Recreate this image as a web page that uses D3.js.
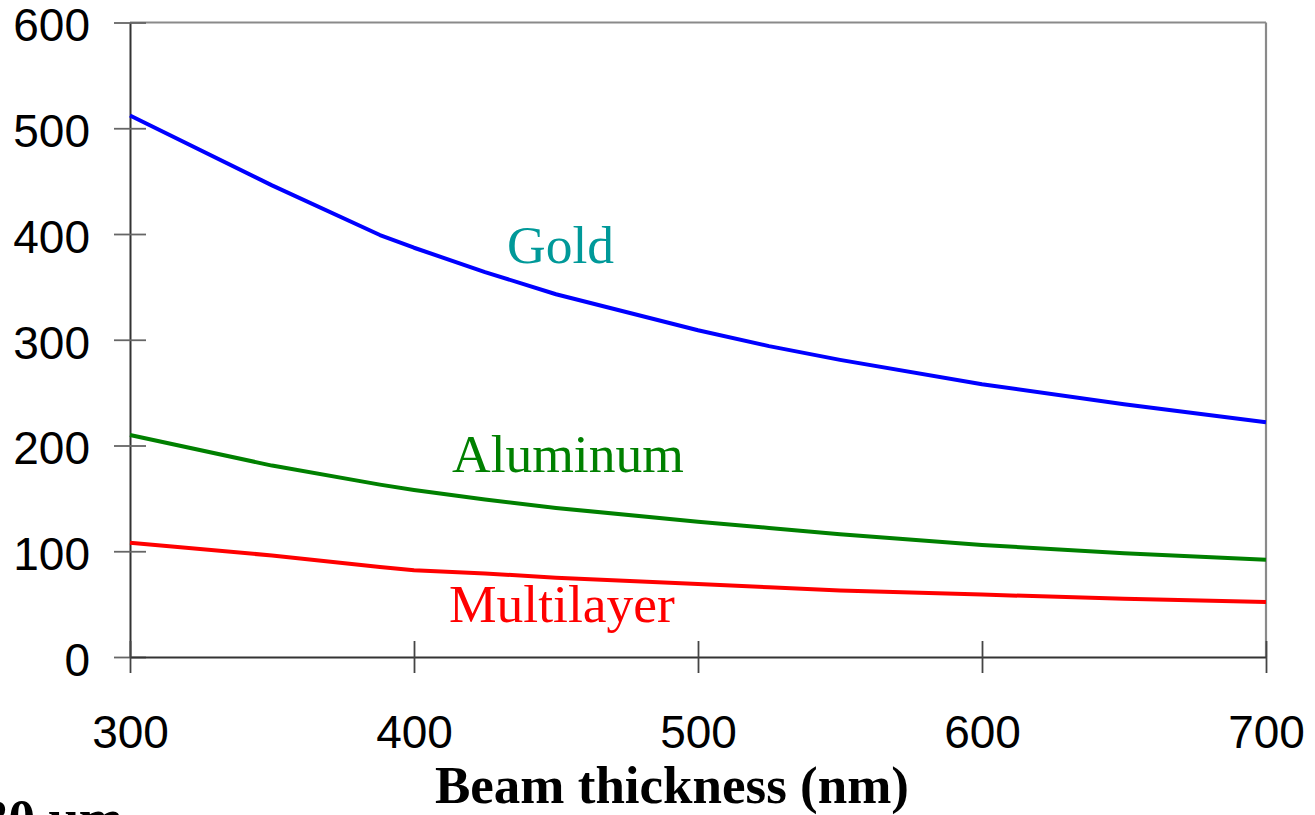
<!DOCTYPE html>
<html>
<head>
<meta charset="utf-8">
<script src="https://cdn.jsdelivr.net/npm/d3@7"></script>
<style>
  html, body { margin: 0; padding: 0; background: #fff; }
  svg { display: block; }
</style>
</head>
<body>
<svg id="chart" width="1315" height="815"></svg>
<script>
// Beam thickness (nm)
const thickness = [300, 350, 388, 400, 425, 450, 500, 525, 550, 600, 650, 700];
const gold       = [512, 446, 399, 387, 364, 343, 309, 294, 281, 258, 239, 222];
const aluminum   = [210, 181, 163, 158, 149, 141, 128, 122, 116, 106, 98, 92];
const multilayer = [108, 96, 85, 82, 79, 75, 69, 66, 63, 59, 55, 52];

const xTicks = [300, 400, 500, 600, 700];
const yTicks = [0, 100, 200, 300, 400, 500, 600];

const svg = d3.select("#chart");

const x = d3.scaleLinear().domain([300, 700]).range([130, 1266]);
const y = d3.scaleLinear().domain([0, 600]).range([657, 22.5]);

// frame: top and right edges
svg.append("line").attr("x1", 130).attr("x2", 1266).attr("y1", y(600)).attr("y2", y(600))
  .attr("stroke", "#8a8a8a").attr("stroke-width", 2.2);
svg.append("line").attr("x1", 1266).attr("x2", 1266).attr("y1", y(600)).attr("y2", y(0))
  .attr("stroke", "#8a8a8a").attr("stroke-width", 2.2);

// y axis with cross ticks
const yAxis = svg.append("g").attr("transform", "translate(130,0)")
  .call(d3.axisLeft(y).tickValues(yTicks).tickSize(0).tickPadding(40).tickFormat(d3.format("d")));
yAxis.select(".domain").attr("stroke", "#333").attr("stroke-width", 2);
yAxis.selectAll(".tick").append("line").attr("x1", -16).attr("x2", 16)
  .attr("stroke", "#666").attr("stroke-width", 1.8);
yAxis.selectAll("text").attr("font-family", "Liberation Sans, Arial, sans-serif")
  .attr("font-size", 46).attr("fill", "#000").attr("dy", "0.4em");

// x axis with cross ticks
const xAxis = svg.append("g").attr("transform", `translate(0,${y(0)})`)
  .call(d3.axisBottom(x).tickValues(xTicks).tickSize(0).tickPadding(58).tickFormat(d3.format("d")));
xAxis.select(".domain").attr("stroke", "#333").attr("stroke-width", 2);
xAxis.selectAll(".tick").append("line").attr("y1", -16).attr("y2", 16)
  .attr("stroke", "#444").attr("stroke-width", 1.8);
xAxis.selectAll("text").attr("font-family", "Liberation Sans, Arial, sans-serif")
  .attr("font-size", 46).attr("fill", "#000");

// series lines
const series = [
  { values: gold, color: "#0000ff" },
  { values: aluminum, color: "#008000" },
  { values: multilayer, color: "#ff0000" }
];
const line = d3.line().x(d => x(d[0])).y(d => y(d[1]));
series.forEach(s => {
  svg.append("path")
    .datum(thickness.map((t, i) => [t, s.values[i]]))
    .attr("d", line)
    .attr("fill", "none")
    .attr("stroke", s.color)
    .attr("stroke-width", 4)
    .attr("stroke-linejoin", "round");
});

// series labels
const labels = [
  { text: "Gold", x: 507, y: 263, color: "#009999" },
  { text: "Aluminum", x: 452, y: 472, color: "#008000" },
  { text: "Multilayer", x: 449, y: 622, color: "#ff0000" }
];
svg.selectAll(".series-label").data(labels).enter().append("text")
  .attr("class", "series-label")
  .attr("x", d => d.x).attr("y", d => d.y)
  .attr("fill", d => d.color)
  .attr("font-family", "Liberation Serif, Times New Roman, serif")
  .attr("font-size", 53.5)
  .text(d => d.text);

// axis title
svg.append("text")
  .attr("x", 672).attr("y", 803)
  .attr("text-anchor", "middle")
  .attr("font-family", "Liberation Serif, Times New Roman, serif")
  .attr("font-weight", "bold")
  .attr("font-size", 53)
  .attr("fill", "#000")
  .text("Beam thickness (nm)");

// scale note at the lower left edge
svg.append("text")
  .attr("x", -18).attr("y", 836)
  .attr("font-family", "Liberation Serif, Times New Roman, serif")
  .attr("font-weight", "bold")
  .attr("font-size", 53)
  .attr("fill", "#000")
  .text("30 µm");
</script>
</body>
</html>
